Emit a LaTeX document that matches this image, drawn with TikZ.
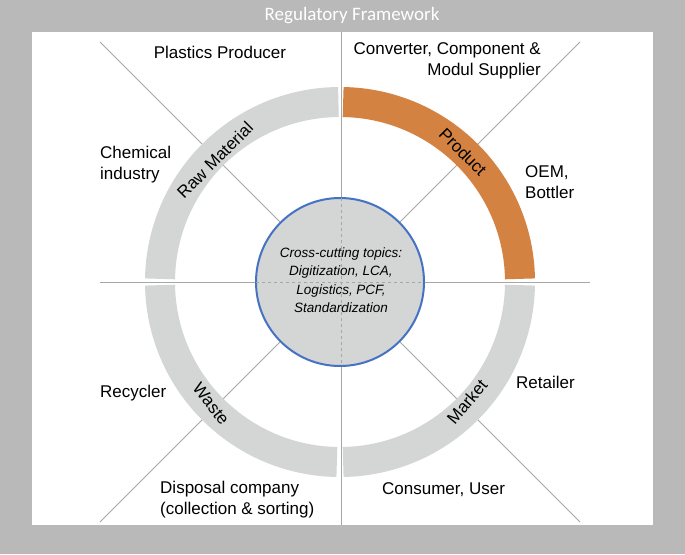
\documentclass[tikz,border=0pt]{standalone}
\usepackage{fontspec}
\setmainfont{Liberation Sans}
\newfontfamily\titlefont{Carlito}
\begin{document}
\begin{tikzpicture}[x=1pt,y=-1pt,
  lbl/.style={font=\fontsize{17}{21}\selectfont,inner sep=0pt},
  ring/.style={line width=30pt},
  guide/.style={draw=gray!70,line width=0.8pt}]
\fill[gray!55!white] (0,0) rectangle (685,554);
\useasboundingbox (0,0) rectangle (685,554);
\fill[white] (32,32) rectangle (653,525);
\node[font=\titlefont\fontsize{19}{22}\selectfont,text=white] (title) at (352,16) {Regulatory Framework};
\coordinate (c) at (340,282);
% guide lines
\coordinate (t) at (341,32); \coordinate (b) at (341,525);
\coordinate (l) at (100,282); \coordinate (r) at (590,282);
\coordinate (tl) at (100,42); \coordinate (tr) at (580,42);
\coordinate (bl) at (100,522); \coordinate (br) at (580,522);
\draw[guide] (t) -- (b);
\draw[guide] (l) -- (r);
\draw[guide] (tl) -- (c); \draw[guide] (tr) -- (c);
\draw[guide] (bl) -- (c); \draw[guide] (br) -- (c);
% ring
\definecolor{ringgray}{HTML}{D4D5D5}
\definecolor{orng}{HTML}{D48242}
\draw[ring,draw=ringgray] ([shift={(1:180)}]c) arc[start angle=1,end angle=89,radius=180];
\draw[ring,draw=ringgray] ([shift={(91:180)}]c) arc[start angle=91,end angle=179,radius=180];
\draw[ring,draw=ringgray] ([shift={(181:180)}]c) arc[start angle=181,end angle=269.5,radius=180];
\draw[ring,draw=orng] ([shift={(271:180)}]c) arc[start angle=271,end angle=359,radius=180];
% centre
\node[circle,minimum size=168pt,fill=ringgray,draw={rgb,255:red,70;green,114;blue,196},line width=2pt,inner sep=0pt] (hub) at (c) {};
\draw[gray!70,dashed,line width=0.5pt] (341,198) -- (341,366) (256,282) -- (424,282);
\node[font=\itshape\fontsize{13.5}{18.5}\selectfont,align=center] (hubtext) at (341,280) {Cross-cutting topics:\\Digitization, LCA,\\Logistics, PCF,\\Standardization};
% ring labels
\node[lbl,rotate=45] (raw) at (215,160) {Raw Material};
\node[lbl,rotate=-45] (prod) at (463,152) {Product};
\node[lbl,rotate=-52] (waste) at (211,404) {Waste};
\node[lbl,rotate=50] (market) at (467,402) {Market};
% actors
\node[lbl] (pp) at (220,52) {Plastics Producer};
\node[lbl,anchor=north east,align=right] (conv) at (541,42) {Converter, Component \&\\Modul Supplier};
\node[lbl,anchor=north west,align=left] (chem) at (100,146) {Chemical\\industry};
\node[lbl,anchor=north west,align=left] (oem) at (525,165) {OEM,\\Bottler};
\node[lbl,anchor=west] (rec) at (100,393) {Recycler};
\node[lbl,anchor=west] (ret) at (516,382) {Retailer};
\node[lbl,anchor=north west,align=left] (disp) at (160,481) {Disposal company\\(collection \& sorting)};
\node[lbl,anchor=west] (cons) at (382,490) {Consumer, User};
\end{tikzpicture}
\end{document}
